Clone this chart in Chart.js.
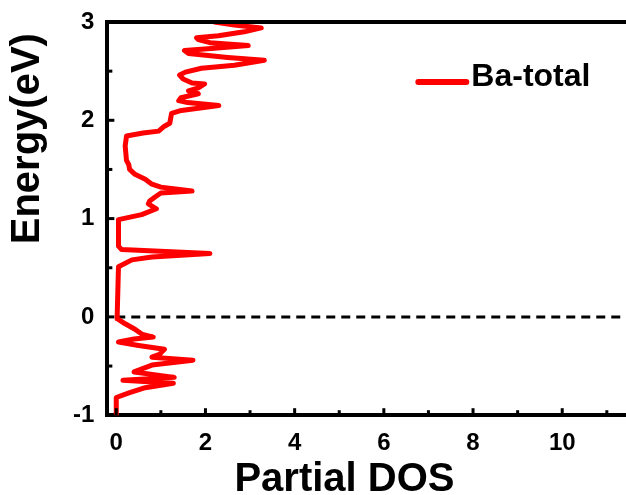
<!DOCTYPE html>
<html>
<head>
<meta charset="utf-8">
<script src="https://cdn.jsdelivr.net/npm/chart.js@4.4.1/dist/chart.umd.min.js"></script>
<style>
  body { margin: 0; background: #ffffff; overflow: hidden; }
</style>
</head>
<body>
<canvas id="dosChart" width="626" height="495"></canvas>
<script>
// Ba total DOS (energy in eV, DOS in states)
const energy = [
  -1.0, -0.82, -0.77, -0.72, -0.675, -0.645, -0.615, -0.56, -0.49, -0.44,
  -0.41, -0.38, -0.33, -0.29, -0.255, -0.225, -0.205, -0.175, -0.125, -0.07,
  -0.02, 0.0, 0.51, 0.58, 0.61, 0.645, 0.685, 0.72, 0.99, 1.04,
  1.10, 1.15, 1.18, 1.22, 1.26, 1.28, 1.32, 1.35, 1.40, 1.45,
  1.50, 1.55, 1.59, 1.74, 1.84, 1.87, 1.89, 1.94, 1.97, 2.07,
  2.10, 2.15, 2.18, 2.20, 2.23, 2.27, 2.30, 2.33, 2.37, 2.38,
  2.42, 2.46, 2.49, 2.53, 2.56, 2.61, 2.64, 2.68, 2.71, 2.73,
  2.76, 2.79, 2.82, 2.84, 2.86, 2.90, 2.94, 2.97, 3.0
];
const baTotal = [
  0.0, 0.0, 0.3, 0.65, 1.28, 0.15, 1.3, 0.4, 0.8, 1.72,
  0.8, 0.97, 1.08, 0.5, 0.05, 0.4, 0.83, 0.57, 0.42, 0.2,
  0.03, 0.02, 0.05, 0.35, 0.8, 2.1, 0.12, 0.05, 0.05, 0.57,
  0.9, 0.72, 0.75, 0.87, 1.0, 1.7, 1.0, 0.8, 0.65, 0.42,
  0.3, 0.28, 0.23, 0.2, 0.23, 0.6, 0.95, 1.08, 1.2, 1.24,
  1.46, 2.3, 1.6, 1.4, 1.45, 1.84, 1.62, 1.84, 1.98, 1.7,
  1.5, 1.42, 1.55, 1.91, 2.65, 3.32, 2.5, 1.62, 1.53, 2.13,
  2.96, 2.1, 1.84, 1.8, 2.29, 2.87, 3.25, 2.65, 2.2
];

// Fermi level reference line
const fermiDos = [0, 12];
const fermiEnergy = [0, 0];

const xTicks = [0, 1, 2, 3, 4, 5, 6, 7, 8, 9, 10, 11];
const yTicks = [-1, -0.5, 0, 0.5, 1, 1.5, 2, 2.5, 3];

const FONT = "'Liberation Sans', Arial, sans-serif";

// inward tick marks + top frame line, like the Origin plot
const frameTicks = {
  id: "frameTicks",
  afterDraw(chart) {
    const { ctx, chartArea, scales } = chart;
    ctx.save();
    ctx.strokeStyle = "#000";
    ctx.lineWidth = 3;
    scales.x.ticks.forEach((t) => {
      const px = scales.x.getPixelForValue(t.value);
      const len = t.value % 2 === 0 ? 7 : 5;
      ctx.beginPath();
      ctx.moveTo(px, chartArea.bottom);
      ctx.lineTo(px, chartArea.bottom - len);
      ctx.stroke();
    });
    scales.y.ticks.forEach((t) => {
      const py = scales.y.getPixelForValue(t.value);
      const len = Number.isInteger(t.value) ? 7 : 5;
      ctx.beginPath();
      ctx.moveTo(chartArea.left, py);
      ctx.lineTo(chartArea.left + len, py);
      ctx.stroke();
    });
    ctx.lineWidth = 4;
    ctx.beginPath();
    ctx.moveTo(chartArea.left - 2, chartArea.top);
    ctx.lineTo(chartArea.right, chartArea.top);
    ctx.stroke();
    ctx.restore();
  }
};

// legend drawn inside the frame, top right
const insideLegend = {
  id: "insideLegend",
  afterDraw(chart, args, opts) {
    const { ctx, chartArea } = chart;
    const ds = chart.data.datasets.find((d) => d.label === opts.label);
    const x = chartArea.left + opts.offsetX;
    const y = chartArea.top + opts.offsetY;
    ctx.save();
    ctx.strokeStyle = ds.borderColor;
    ctx.lineWidth = 6;
    ctx.lineCap = "round";
    ctx.beginPath();
    ctx.moveTo(x, y + 5);
    ctx.lineTo(x + opts.lineLength, y + 5);
    ctx.stroke();
    ctx.fillStyle = "#000";
    ctx.font = "bold 32px " + FONT;
    ctx.textBaseline = "middle";
    ctx.fillText(ds.label, x + opts.lineLength + 5, y);
    ctx.restore();
  }
};

const ctx = document.getElementById("dosChart").getContext("2d");

new Chart(ctx, {
  type: "scatter",
  data: {
    datasets: [
      {
        label: "Fermi",
        data: fermiDos.map((x, i) => ({ x, y: fermiEnergy[i] })),
        showLine: true,
        borderColor: "#000000",
        borderWidth: 3,
        borderDash: [9, 6],
        pointRadius: 0,
        order: 2
      },
      {
        label: "Ba-total",
        data: baTotal.map((x, i) => ({ x, y: energy[i] })),
        showLine: true,
        borderColor: "#ff0000",
        backgroundColor: "#ff0000",
        borderWidth: 5,
        borderJoinStyle: "round",
        borderCapStyle: "round",
        pointRadius: 0,
        tension: 0,
        order: 1
      }
    ]
  },
  options: {
    responsive: false,
    devicePixelRatio: 1,
    animation: false,
    layout: { padding: { top: 22, right: 0, bottom: -5, left: 0 } },
    scales: {
      x: {
        type: "linear",
        min: -0.2,
        max: 11.43,
        afterBuildTicks: (scale) => {
          scale.ticks = xTicks.map((v) => ({ value: v }));
        },
        grid: { display: false, drawTicks: false },
        border: { display: true, color: "#000", width: 4 },
        ticks: {
          color: "#000",
          padding: 14,
          maxRotation: 0,
          autoSkip: false,
          font: { family: FONT, size: 24, weight: "bold" },
          callback: (v) => (v % 2 === 0 ? String(v) : "")
        },
        title: {
          display: true,
          text: "Partial DOS    ",
          color: "#000",
          padding: { top: -12, bottom: 0 },
          font: { family: FONT, size: 40, weight: "bold", lineHeight: 1 }
        }
      },
      y: {
        type: "linear",
        min: -1,
        max: 3,
        afterBuildTicks: (scale) => {
          scale.ticks = yTicks.map((v) => ({ value: v }));
        },
        grid: { display: false, drawTicks: false },
        border: { display: true, color: "#000", width: 4 },
        ticks: {
          color: "#000",
          padding: 13,
          autoSkip: false,
          font: { family: FONT, size: 24, weight: "bold", lineHeight: 0.7 },
          callback: (v) => (Number.isInteger(v) ? String(v) : "")
        },
        title: {
          display: true,
          text: "Energy(eV) ",
          align: "end",
          color: "#000",
          padding: { top: 8, bottom: 12 },
          font: { family: FONT, size: 40, weight: "bold", lineHeight: 1 }
        }
      }
    },
    plugins: {
      legend: { display: false },
      tooltip: { enabled: false },
      insideLegend: { label: "Ba-total", offsetX: 311, offsetY: 55, lineLength: 48 }
    }
  },
  plugins: [frameTicks, insideLegend]
});
</script>
</body>
</html>
